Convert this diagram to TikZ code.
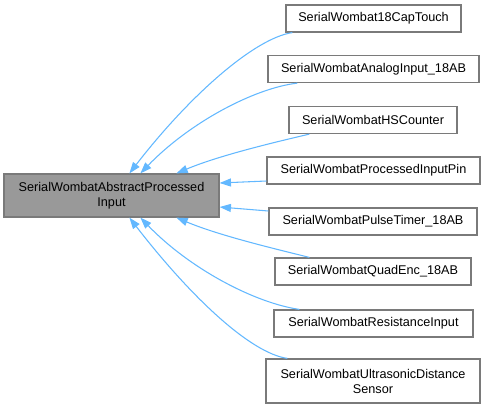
\documentclass[tikz,border=0pt]{standalone}
\usepackage{fontspec}
\setmainfont{Liberation Sans}
\usetikzlibrary{arrows.meta}
\definecolor{edgeblue}{HTML}{63B8FF}
\definecolor{boxline}{HTML}{7A7A7A}
\definecolor{basefill}{HTML}{999999}
\begin{document}
\begin{tikzpicture}[x=0.75pt,y=-0.75pt,
  every node/.style={font=\fontsize{9.5}{11.25}\selectfont, inner sep=0pt, align=center},
  cls/.style={draw=boxline, fill=white, line width=0.9pt, minimum height=27*0.75pt},
  basebox/.style={draw=boxline, fill=basefill, line width=0.9pt, minimum width=215*0.75pt, minimum height=43*0.75pt},
  edge/.style={draw=edgeblue, line width=0.8pt, -{Triangle[length=8.5pt,width=6pt]}}]
\useasboundingbox (0,0) rectangle (485,408);
\node[basebox] (base) at (111.5,195.5) {SerialWombatAbstractProcessed\\Input};
\node[cls, minimum width=175*0.75pt] (cap) at (373.5,18.5) {SerialWombat18CapTouch};
\node[cls, minimum width=211*0.75pt] (ana) at (373.5,69) {SerialWombatAnalogInput\_18AB};
\node[cls, minimum width=168*0.75pt] (hsc) at (373,120) {SerialWombatHSCounter};
\node[cls, minimum width=213*0.75pt] (pip) at (373.5,170.5) {SerialWombatProcessedInputPin};
\node[cls, minimum width=208*0.75pt] (pul) at (373,221.5) {SerialWombatPulseTimer\_18AB};
\node[cls, minimum width=196*0.75pt] (qua) at (373,271.5) {SerialWombatQuadEnc\_18AB};
\node[cls, minimum width=199*0.75pt] (res) at (373.5,323.5) {SerialWombatResistanceInput};
\node[cls, minimum width=214*0.75pt, minimum height=44*0.75pt] (ult) at (373,381) {SerialWombatUltrasonicDistance\\Sensor};
\path[edge] ([xshift=7*0.75pt]cap.south west) .. controls (255,38) and (190,95) .. ([xshift=126*0.75pt]base.north west);
\path[edge] ([xshift=30*0.75pt]ana.south west) .. controls (255,88) and (190,122) .. ([xshift=137*0.75pt]base.north west);
\path[edge] ([xshift=21*0.75pt]hsc.south west) .. controls (280,141) and (220,155) .. ([xshift=173*0.75pt]base.north west);
\path[edge] ([yshift=-10.5*0.75pt]pip.west) -- ([yshift=12.5*0.75pt]base.east);
\path[edge] ([yshift=10.5*0.75pt]pul.west) -- ([yshift=-11.5*0.75pt]base.east);
\path[edge] ([xshift=35*0.75pt]qua.north west) .. controls (280,250) and (220,236) .. ([xshift=173*0.75pt]base.south west);
\path[edge] ([xshift=26*0.75pt]res.north west) .. controls (255,303) and (190,269) .. ([xshift=137*0.75pt]base.south west);
\path[edge] ([xshift=22*0.75pt]ult.north west) .. controls (250,353) and (190,296) .. ([xshift=126*0.75pt]base.south west);
\end{tikzpicture}
\end{document}
